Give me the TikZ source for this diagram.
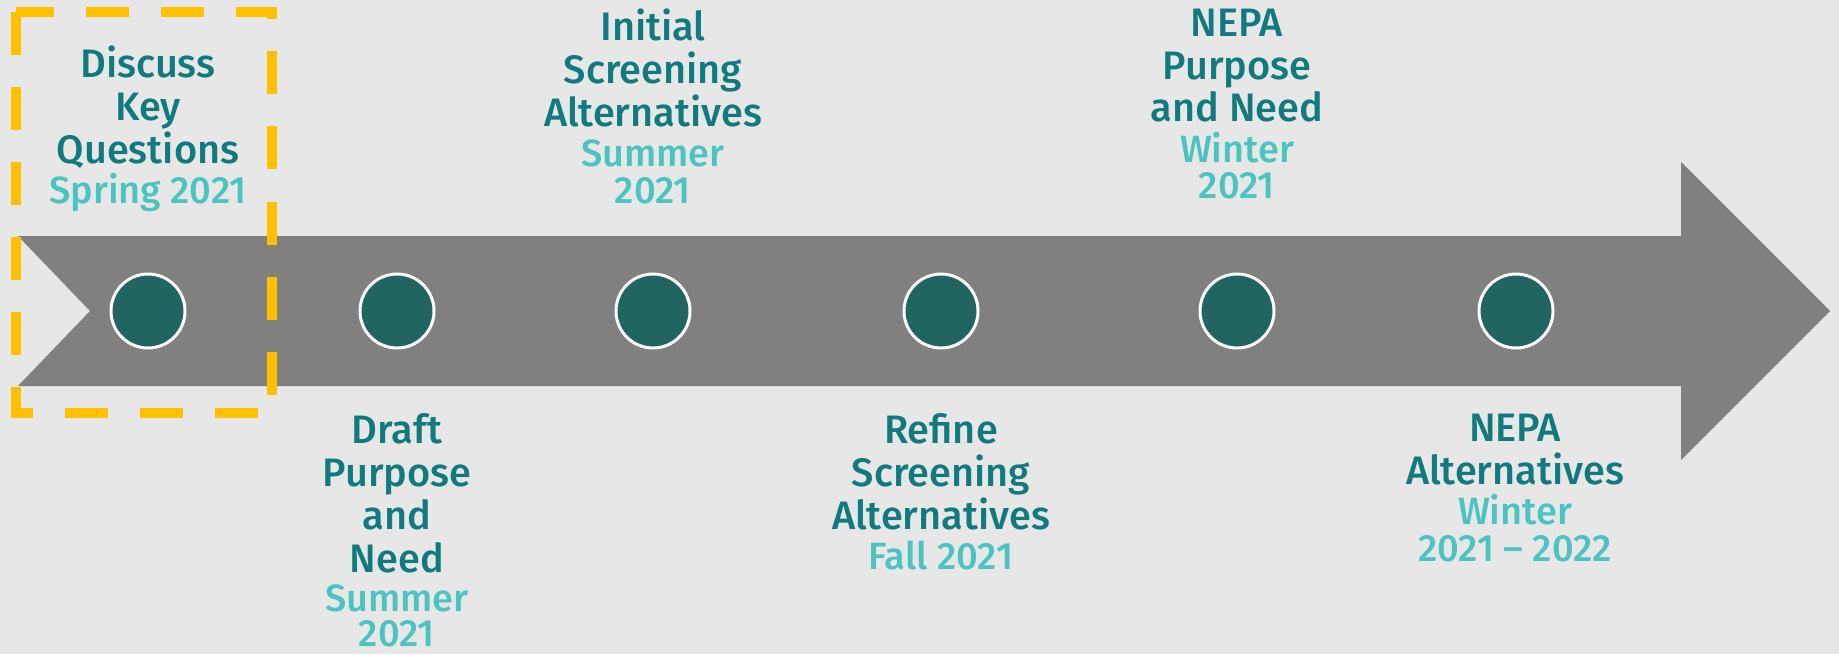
\documentclass[tikz,border=0pt]{standalone}
\usepackage{fontspec}
\setmainfont{Fira Sans}[UprightFont=* Medium]
\usepackage{tikz}
\definecolor{bgcol}{HTML}{E7E7E7}
\definecolor{barcol}{HTML}{808080}
\definecolor{dotcol}{HTML}{216462}
\definecolor{ttlcol}{HTML}{107A7E}
\definecolor{dtcol}{HTML}{4BC3C0}
\definecolor{boxcol}{HTML}{FFC000}
\newcommand{\dt}[1]{{\color{dtcol}\fontsize{10.8}{11}\selectfont #1}}
\tikzset{
  dot/.style={fill=dotcol, draw=white, line width=0.85pt},
  lbl/.style={align=center, inner sep=0pt, anchor=north, text=ttlcol,
    font=\fontsize{11.3}{12.2}\selectfont},
}

\begin{document}
\begin{tikzpicture}[x=0.01cm, y=-0.01cm]
			%%%%% START %%%%%
			
			\fill[bgcol] (0, 0) rectangle (1839, 654);
			\useasboundingbox (0, 0) rectangle (1839, 654);
			
			% timeline arrow
			\fill[barcol] (18, 236) -- (1681, 236) -- (1681, 162) -- (1830, 311)
			  -- (1681, 460) -- (1681, 386) -- (18, 386) -- (90, 311) -- cycle;
			
			% milestones
			\foreach \x/\n in {148/m1, 397/m2, 653/m3, 941/m4, 1237/m5, 1516/m6}
			  \draw[dot] (\x, 311) circle (37);
			
			% current step
			\draw[boxcol, line width=2.85pt, dash pattern=on 0.43cm off 0.32cm]
			  (16, 12) rectangle (272, 413);
			
			% labels above
			\node[lbl] (k1) at (148, 45) {Discuss\\Key\\Questions\\[-0.8pt]\dt{Spring 2021}};
			\node[lbl] (k3) at (653, 8) {Initial\\Screening\\Alternatives\\[-0.8pt]\dt{Summer}\\[-1.7pt]\dt{2021}};
			\node[lbl] (k5) at (1237, 8) {NEPA\\Purpose\\and Need\\[-0.8pt]\dt{Winter}\\[-1.7pt]\dt{2021}};
			
			% labels below
			\node[lbl] (k2) at (397, 413) {Draft\\Purpose\\and\\Need\\[-1pt]\dt{Summer}\\[-2.3pt]\dt{2021}};
			\node[lbl] (k4) at (941, 413) {Refine\\Screening\\Alternatives\\[-0.8pt]\dt{Fall 2021}};
			\node[lbl] (k6) at (1515, 413) {NEPA\\Alternatives\\[-0.8pt]\dt{Winter}\\[-1.7pt]\dt{2021 -- 2022}};
			
			%%%%% END %%%%%
\end{tikzpicture}
\end{document}
